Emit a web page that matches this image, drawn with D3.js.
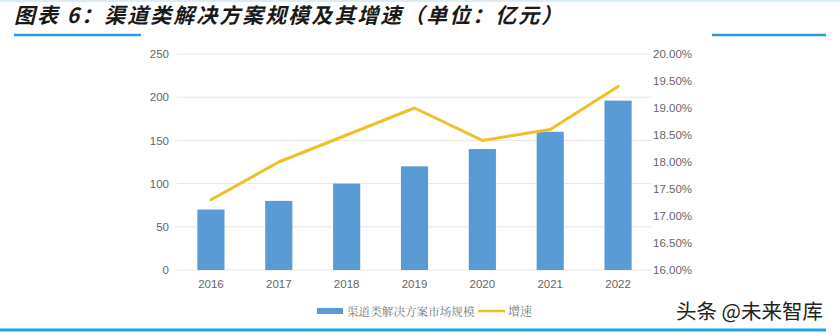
<!DOCTYPE html>
<html><head><meta charset="utf-8">
<script src="https://cdn.jsdelivr.net/npm/d3@7/dist/d3.min.js"></script>
<style>body{margin:0;background:#fff}svg{display:block}</style>
</head><body><svg id="c" width="840" height="335"></svg>
<script>
const years = ["2016","2017","2018","2019","2020","2021","2022"];
const marketSize = [70, 80, 100, 120, 140, 160, 196];
const growthRate = [17.3, 18.0, 18.5, 19.0, 18.4, 18.6, 19.4];
const leftTicks = [0, 50, 100, 150, 200, 250];
const rightTicks = [16, 16.5, 17, 17.5, 18, 18.5, 19, 19.5, 20];
const title = "图表 6：渠道类解决方案规模及其增速（单位：亿元）";
const legendLabels = ["渠道类解决方案市场规模", "增速"];
const watermark = "头条 @未来智库";

const svg = d3.select("#c");
const font = "'Noto Sans CJK SC', 'Noto Sans', sans-serif";
const numFont = "'Liberation Sans',Arial,sans-serif";
const x = d3.scaleBand().domain(years).range([177, 652]).paddingInner(0.6).paddingOuter(0.3);
const yL = d3.scaleLinear().domain([0, 250]).range([270, 54]);
const yR = d3.scaleLinear().domain([16, 20]).range([270, 54]);

// decorative lines
svg.append("line").attr("x1",0).attr("x2",840).attr("y1",1).attr("y2",1).attr("stroke","#cfe6f5").attr("stroke-width",1.5);
svg.append("line").attr("x1",14).attr("x2",141).attr("y1",35).attr("y2",35).attr("stroke","#2a9be0").attr("stroke-width",2.5);
svg.append("line").attr("x1",712).attr("x2",826).attr("y1",35).attr("y2",35).attr("stroke","#2a9be0").attr("stroke-width",2.5);
svg.append("line").attr("x1",0).attr("x2",826).attr("y1",330).attr("y2",330).attr("stroke","#1ea0e8").attr("stroke-width",3);

svg.append("text").attr("x",14).attr("y",23).attr("font-family",font).attr("font-size",21)
  .attr("letter-spacing",2)
  .attr("font-weight","bold").attr("font-style","italic").attr("fill","#1a1a1a").text(title);

// grid
svg.append("g").selectAll("line").data(leftTicks).join("line")
  .attr("x1",177).attr("x2",651).attr("y1",d=>yL(d)).attr("y2",d=>yL(d))
  .attr("stroke","#e6e6e6").attr("stroke-width",1);

// left axis
const gl = svg.append("g").attr("transform","translate(169,0)")
  .call(d3.axisLeft(yL).tickValues(leftTicks).tickSize(0).tickPadding(0));
gl.select(".domain").remove();
gl.selectAll("text").attr("font-family",numFont).attr("font-size",11.5).attr("fill","#666");

// right axis
const gr = svg.append("g").attr("transform","translate(653,0)")
  .call(d3.axisRight(yR).tickValues(rightTicks).tickSize(0).tickPadding(0).tickFormat(d=>d.toFixed(2)+"%"));
gr.select(".domain").remove();
gr.selectAll("text").attr("font-family",numFont).attr("font-size",11.5).attr("fill","#666");

// bottom axis
const gb = svg.append("g").attr("transform","translate(0,280)")
  .call(d3.axisBottom(x).tickSize(0).tickPadding(0));
gb.select(".domain").remove();
gb.selectAll("text").attr("font-family",numFont).attr("font-size",11.5).attr("fill","#666");

// bars
svg.append("g").selectAll("rect").data(marketSize).join("rect")
  .attr("x",(d,i)=>x(years[i])).attr("width",x.bandwidth())
  .attr("y",d=>yL(d)).attr("height",d=>yL(0)-yL(d)).attr("fill","#5b9bd5");

// line
const line = d3.line().x((d,i)=>x(years[i])+x.bandwidth()/2).y(d=>yR(d));
svg.append("path").datum(growthRate).attr("d",line).attr("fill","none")
  .attr("stroke","#f0c02a").attr("stroke-width",3).attr("stroke-linejoin","round").attr("stroke-linecap","round");

// legend
const lg = svg.append("g");
lg.append("rect").attr("x",317).attr("y",308).attr("width",26).attr("height",6).attr("fill","#5b9bd5");
lg.append("text").attr("x",347).attr("y",315.5).attr("font-family","'Noto Serif CJK SC','Noto Sans CJK SC',serif").attr("font-size",11.6).attr("fill","#777").text(legendLabels[0]);
lg.append("line").attr("x1",478).attr("x2",505).attr("y1",311).attr("y2",311).attr("stroke","#f0c02a").attr("stroke-width",2.5);
lg.append("text").attr("x",508).attr("y",315.5).attr("font-family","'Noto Serif CJK SC','Noto Sans CJK SC',serif").attr("font-size",12).attr("fill","#777").text(legendLabels[1]);

svg.append("text").attr("x",676).attr("y",319).attr("font-family",font).attr("font-size",20.5).attr("fill","#222").text(watermark);
</script></body></html>
